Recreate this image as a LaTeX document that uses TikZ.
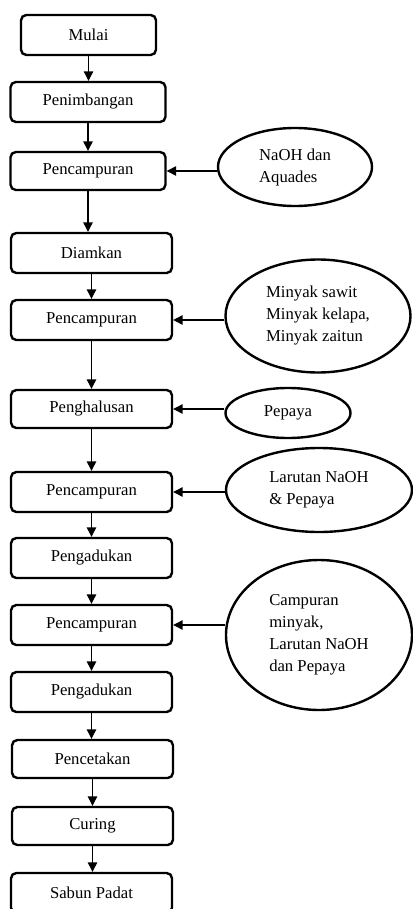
\documentclass[tikz,border=0pt]{standalone}
\usepackage{fontspec}
\setmainfont{Liberation Serif}
\usetikzlibrary{shapes.geometric,arrows.meta}

\tikzset{
  prosesbox/.style={draw, line width=1.8pt, rounded corners=4pt, inner sep=0pt,
    minimum width=120.75pt, minimum height=30pt, font=\fontsize{12.5}{16.5}\selectfont},
  bahan/.style={ellipse, draw, line width=1.8pt, inner sep=0pt, align=left,
    font=\fontsize{12.5}{16.5}\selectfont},
  panah/.style={line width=0.9pt, -{Triangle[length=7pt,width=7pt]}}
}

\begin{document}
\begin{tikzpicture}[x=0.75pt,y=0.75pt,yscale=-1,xscale=1]
\useasboundingbox (0,0) rectangle (413,909);

% Proses utama
\node[prosesbox, minimum width=101.25pt] (mulai) at (88.5,35) {Mulai};
\node[prosesbox, minimum width=116.25pt] (timbang) at (88,102) {Penimbangan};
\node[prosesbox, minimum width=116.25pt, minimum height=28.5pt] (campur1) at (88,171) {Pencampuran};
\node[prosesbox] (diam) at (91.5,253) {Diamkan};
\node[prosesbox] (campur2) at (91.5,320) {Pencampuran};
\node[prosesbox, minimum height=28.5pt] (halus) at (91.5,409) {Penghalusan};
\node[prosesbox] (campur3) at (91.5,492) {Pencampuran};
\node[prosesbox] (aduk1) at (91.5,558) {Pengadukan};
\node[prosesbox] (campur4) at (91.5,625) {Pencampuran};
\node[prosesbox] (aduk2) at (91.5,692) {Pengadukan};
\node[prosesbox, minimum height=28.5pt] (cetak) at (92.5,759) {Pencetakan};
\node[prosesbox, minimum height=28.5pt] (curing) at (92.5,826) {Curing};
\node[prosesbox] (sabun) at (91.5,893) {Sabun Padat};

% Bahan masuk
\node[bahan, minimum width=115.5pt, minimum height=58.5pt] (naoh) at (295,167) {NaOH dan\\Aquades};
\node[bahan, minimum width=138.75pt, minimum height=84.75pt] (minyak) at (318,316) {Minyak sawit\\Minyak kelapa,\\Minyak zaitun};
\node[bahan, minimum width=93.75pt, minimum height=37.5pt] (pepaya) at (288,413) {Pepaya};
\node[bahan, minimum width=139.5pt, minimum height=63pt] (larutan) at (319,490) {Larutan NaOH\\\& Pepaya};
\node[bahan, minimum width=139.5pt, minimum height=112.5pt] (campuran) at (319,635) {Campuran\\minyak,\\Larutan NaOH\\dan Pepaya};

% Alur ke bawah
\foreach \a/\b in {mulai/timbang, timbang/campur1, campur1/diam, diam/campur2,
    campur2/halus, halus/campur3, campur3/aduk1, aduk1/campur4, campur4/aduk2,
    aduk2/cetak, cetak/curing, curing/sabun}
  \draw[panah] (\a.south) -- (\a.south |- \b.north);

% Alur dari bahan
\foreach \e/\p in {naoh/campur1, minyak/campur2, pepaya/halus, larutan/campur3, campuran/campur4}
  \draw[panah] (\p.east -| \e.west) -- (\p.east);
\end{tikzpicture}
\end{document}
